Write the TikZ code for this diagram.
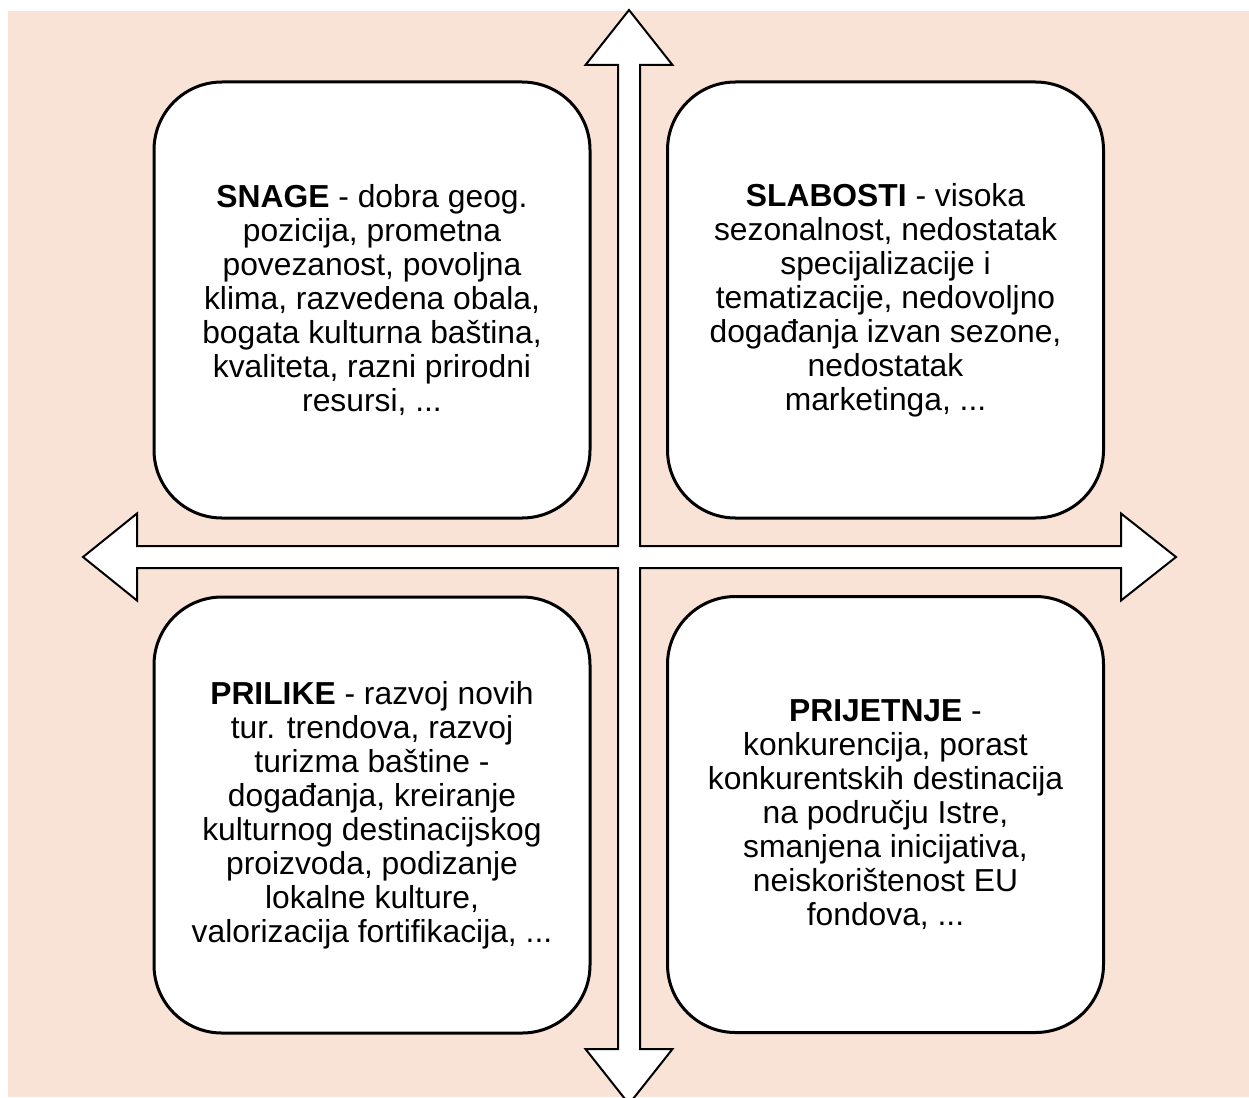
\documentclass[tikz,border=0pt]{standalone}
\usepackage{fontspec}
\setmainfont{Liberation Sans}
\usepackage{tikz}
\definecolor{peach}{HTML}{F9E3D6}

\begin{document}
\begin{tikzpicture}[x=1pt, y=-1pt,
    swot/.style={draw, line width=3pt, fill=white, rounded corners=68pt,
      minimum width=436pt, minimum height=436pt, inner sep=0pt,
      align=center, font=\fontsize{31.8}{34}\selectfont},
    cross/.style={draw, line width=2pt, fill=white, line join=miter}]
  \useasboundingbox (0,0) rectangle (1249,1097);
  % background
  \fill[peach] (8,11) rectangle (1249,1097);
  % four-way arrow
  \coordinate (c) at (629,557);
  \draw[cross] (629,10) -- (672.5,65) -- (640,65) -- (640,546)
    -- (1121,546) -- (1121,513.5) -- (1176,557) -- (1121,600.5) -- (1121,568)
    -- (640,568) -- (640,1049) -- (672.5,1049) -- (629,1104) -- (585.5,1049)
    -- (618,1049) -- (618,568) -- (137,568) -- (137,600.5) -- (83,557)
    -- (137,513.5) -- (137,546) -- (618,546) -- (618,65) -- (585.5,65) -- cycle;
  % quadrants
  \node[swot] (snage) at (372,300) {\textbf{SNAGE} - dobra geog.\\
    pozicija, prometna\\ povezanost, povoljna\\ klima, razvedena obala,\\
    bogata kulturna baština,\\ kvaliteta, razni prirodni\\ resursi, ...};
  \node[swot] (slabosti) at (885.5,300) {\textbf{SLABOSTI} - visoka\\
    sezonalnost, nedostatak\\ specijalizacije i\\ tematizacije, nedovoljno\\
    događanja izvan sezone,\\ nedostatak\\ marketinga, ...};
  \node[swot] (prilike) at (372,815) {\textbf{PRILIKE} - razvoj novih\\
    tur. trendova, razvoj\\ turizma baštine -\\ događanja, kreiranje\\
    kulturnog destinacijskog\\ proizvoda, podizanje\\ lokalne kulture,\\
    valorizacija fortifikacija, ...};
  \node[swot] (prijetnje) at (885.5,814.5) {\textbf{PRIJETNJE} -\\
    konkurencija, porast\\ konkurentskih destinacija\\ na području Istre,\\
    smanjena inicijativa,\\ neiskorištenost EU\\ fondova, ...};
\end{tikzpicture}
\end{document}
